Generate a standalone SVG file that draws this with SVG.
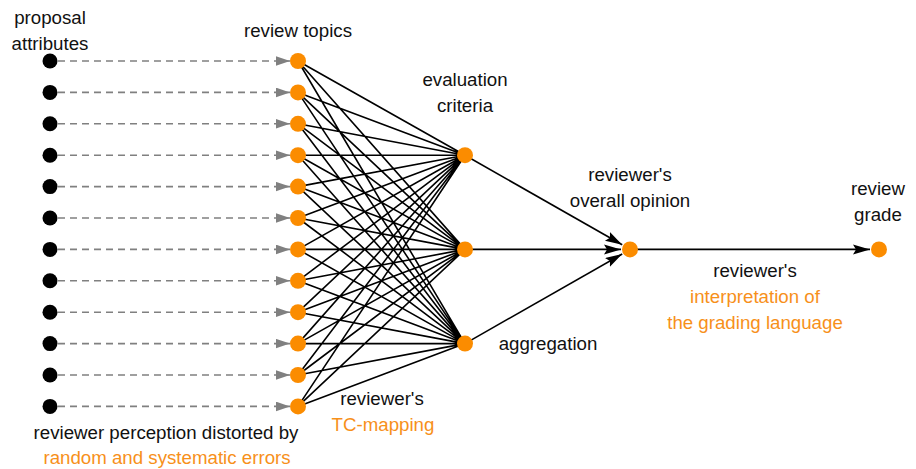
<svg xmlns="http://www.w3.org/2000/svg" width="916" height="469" viewBox="0 0 916 469">
  <style>
    text { font-family: "Liberation Sans", Arial, sans-serif; font-size: 18.7px; fill: #111; text-anchor: middle; }
    text.hl { fill: #f7901a; }
    .dash { stroke: #808080; stroke-width: 1.6; stroke-dasharray: 7 5; fill: none; }
    .edge { stroke: #000; stroke-width: 1.6; fill: none; }
    .attr { fill: #000; }
    .node { fill: #fb8c00; }
  </style>
  <defs>
    <marker id="greyArrow" markerUnits="userSpaceOnUse" markerWidth="15" markerHeight="10" refX="14" refY="4.75" orient="auto">
      <path d="M0,0 L14,4.75 L0,9.5 z" fill="#808080"/>
    </marker>
    <marker id="blackArrow" markerUnits="userSpaceOnUse" markerWidth="18" markerHeight="12" refX="17" refY="5" orient="auto">
      <path d="M0,0 L17,5 L0,10 L3,5 z" fill="#000"/>
    </marker>
  </defs>
  <rect width="916" height="469" fill="#fff"/>

  <!-- connectors -->
  <g id="connectors">
    <g id="perception">
      <line class="dash" x1="58" y1="61" x2="290" y2="61" marker-end="url(#greyArrow)"/>
      <line class="dash" x1="58" y1="92.4" x2="290" y2="92.4" marker-end="url(#greyArrow)"/>
      <line class="dash" x1="58" y1="123.8" x2="290" y2="123.8" marker-end="url(#greyArrow)"/>
      <line class="dash" x1="58" y1="155.2" x2="290" y2="155.2" marker-end="url(#greyArrow)"/>
      <line class="dash" x1="58" y1="186.6" x2="290" y2="186.6" marker-end="url(#greyArrow)"/>
      <line class="dash" x1="58" y1="218" x2="290" y2="218" marker-end="url(#greyArrow)"/>
      <line class="dash" x1="58" y1="249.4" x2="290" y2="249.4" marker-end="url(#greyArrow)"/>
      <line class="dash" x1="58" y1="280.8" x2="290" y2="280.8" marker-end="url(#greyArrow)"/>
      <line class="dash" x1="58" y1="312.2" x2="290" y2="312.2" marker-end="url(#greyArrow)"/>
      <line class="dash" x1="58" y1="343.6" x2="290" y2="343.6" marker-end="url(#greyArrow)"/>
      <line class="dash" x1="58" y1="375" x2="290" y2="375" marker-end="url(#greyArrow)"/>
      <line class="dash" x1="58" y1="406.4" x2="290" y2="406.4" marker-end="url(#greyArrow)"/>
    </g>
    <g id="tc-mapping">
      <path class="edge" d="M298,61 L465,155.2 M298,61 L465,249.4 M298,61 L465,343.6
        M298,92.4 L465,155.2 M298,92.4 L465,249.4 M298,92.4 L465,343.6
        M298,123.8 L465,155.2 M298,123.8 L465,249.4 M298,123.8 L465,343.6
        M298,155.2 L465,155.2 M298,155.2 L465,249.4 M298,155.2 L465,343.6
        M298,186.6 L465,155.2 M298,186.6 L465,249.4 M298,186.6 L465,343.6
        M298,218 L465,155.2 M298,218 L465,249.4 M298,218 L465,343.6
        M298,249.4 L465,155.2 M298,249.4 L465,249.4 M298,249.4 L465,343.6
        M298,280.8 L465,155.2 M298,280.8 L465,249.4 M298,280.8 L465,343.6
        M298,312.2 L465,155.2 M298,312.2 L465,249.4 M298,312.2 L465,343.6
        M298,343.6 L465,155.2 M298,343.6 L465,249.4 M298,343.6 L465,343.6
        M298,375 L465,155.2 M298,375 L465,249.4 M298,375 L465,343.6
        M298,406.4 L465,155.2 M298,406.4 L465,249.4 M298,406.4 L465,343.6"/>
    </g>
    <g id="aggregation-edges">
      <line class="edge" x1="465" y1="155.2" x2="622.2" y2="244.8" marker-end="url(#blackArrow)"/>
      <line class="edge" x1="465" y1="249.4" x2="621" y2="249.4" marker-end="url(#blackArrow)"/>
      <line class="edge" x1="465" y1="343.6" x2="622.2" y2="254" marker-end="url(#blackArrow)"/>
    </g>
    <line id="grading-edge" class="edge" x1="630" y1="249.4" x2="870" y2="249.4" marker-end="url(#blackArrow)"/>
  </g>

  <!-- proposal attributes -->
  <g id="attributes">
    <circle class="attr" cx="50" cy="61" r="7.5"/>
    <circle class="attr" cx="50" cy="92.4" r="7.5"/>
    <circle class="attr" cx="50" cy="123.8" r="7.5"/>
    <circle class="attr" cx="50" cy="155.2" r="7.5"/>
    <circle class="attr" cx="50" cy="186.6" r="7.5"/>
    <circle class="attr" cx="50" cy="218" r="7.5"/>
    <circle class="attr" cx="50" cy="249.4" r="7.5"/>
    <circle class="attr" cx="50" cy="280.8" r="7.5"/>
    <circle class="attr" cx="50" cy="312.2" r="7.5"/>
    <circle class="attr" cx="50" cy="343.6" r="7.5"/>
    <circle class="attr" cx="50" cy="375" r="7.5"/>
    <circle class="attr" cx="50" cy="406.4" r="7.5"/>
    <text x="50" y="24">proposal</text>
    <text x="50" y="50">attributes</text>
  </g>

  <!-- review topics -->
  <g id="topics">
    <circle class="node" cx="298" cy="61" r="8"/>
    <circle class="node" cx="298" cy="92.4" r="8"/>
    <circle class="node" cx="298" cy="123.8" r="8"/>
    <circle class="node" cx="298" cy="155.2" r="8"/>
    <circle class="node" cx="298" cy="186.6" r="8"/>
    <circle class="node" cx="298" cy="218" r="8"/>
    <circle class="node" cx="298" cy="249.4" r="8"/>
    <circle class="node" cx="298" cy="280.8" r="8"/>
    <circle class="node" cx="298" cy="312.2" r="8"/>
    <circle class="node" cx="298" cy="343.6" r="8"/>
    <circle class="node" cx="298" cy="375" r="8"/>
    <circle class="node" cx="298" cy="406.4" r="8"/>
    <text x="298" y="37">review topics</text>
  </g>

  <!-- evaluation criteria -->
  <g id="criteria">
    <circle class="node" cx="465" cy="155.2" r="8"/>
    <circle class="node" cx="465" cy="249.4" r="8"/>
    <circle class="node" cx="465" cy="343.6" r="8"/>
    <text x="465" y="86">evaluation</text>
    <text x="465" y="112">criteria</text>
  </g>

  <!-- overall opinion -->
  <g id="opinion">
    <circle class="node" cx="630" cy="249.4" r="8"/>
    <text x="630" y="181">reviewer's</text>
    <text x="630" y="207">overall opinion</text>
  </g>

  <!-- review grade -->
  <g id="grade">
    <circle class="node" cx="879" cy="249.4" r="8"/>
    <text x="878" y="195">review</text>
    <text x="878" y="221">grade</text>
  </g>

  <!-- process labels -->
  <g id="labels">
    <text x="166" y="439">reviewer perception distorted by</text>
    <text class="hl" x="167" y="464">random and systematic errors</text>
    <text x="382" y="405">reviewer's</text>
    <text class="hl" x="383" y="431">TC-mapping</text>
    <text x="548" y="350">aggregation</text>
    <text x="755" y="277">reviewer's</text>
    <text class="hl" x="755" y="303">interpretation of</text>
    <text class="hl" x="755" y="329">the grading language</text>
  </g>
</svg>
